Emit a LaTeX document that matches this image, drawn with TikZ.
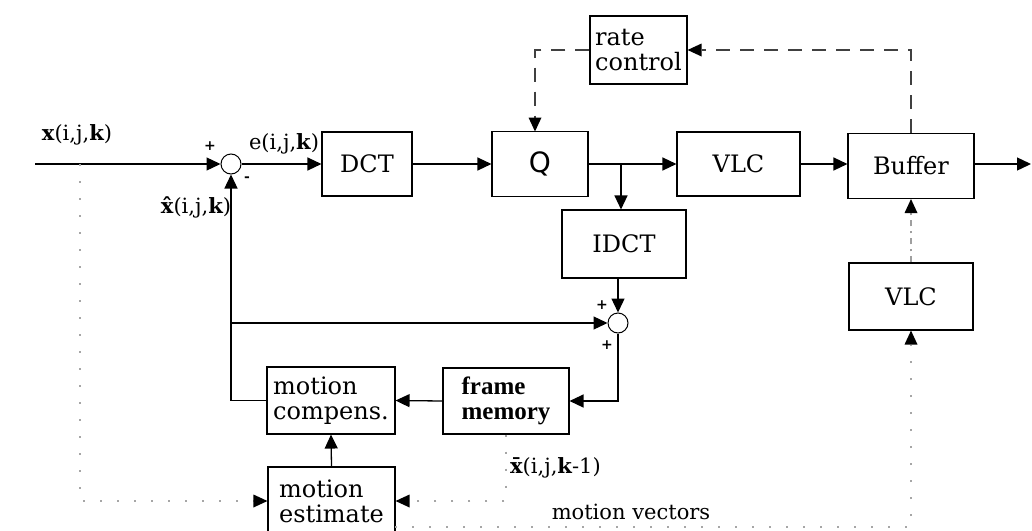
\documentclass[tikz,border=0pt]{standalone}
\usepackage{fontspec}
\setmainfont{DejaVu Serif}
\newfontfamily\qfont{DejaVu Sans}
\newfontfamily\fmfont{Liberation Serif}
\usetikzlibrary{arrows.meta,calc}
\begin{document}
\begin{tikzpicture}[x=1pt,y=-1pt,
 blk/.style={draw, line width=1.1pt, inner sep=0pt, font=\fontsize{24}{25}\selectfont, align=left},
 sumj/.style={draw, circle, line width=1pt, minimum size=20pt, inner sep=0pt},
 ln/.style={line width=1.3pt},
 arr/.style={ln, -{Triangle[length=14pt,width=13pt]}},
 atip/.style={-{Triangle[length=14pt,width=13pt,color=black,line width=0pt]}},
 dotl/.style={line width=2pt, dash pattern=on 2pt off 15pt, gray!70},
 dshl/.style={line width=1.2pt, dash pattern=on 14pt off 10pt, black!75},
 dashdotl/.style={line width=1.3pt, dash pattern=on 6pt off 5pt on 2pt off 5pt, gray!75},
 lbl/.style={font=\fontsize{21}{22}\selectfont, inner sep=0pt},
 sgn/.style={font=\fontsize{14}{14}\selectfont\bfseries, inner sep=0pt}]

\useasboundingbox[fill=white] (0,0) rectangle (1032,530);

% blocks
\node[blk, minimum width=90pt, minimum height=64pt] (dct) at (367,164) {DCT};
\node[blk, minimum width=96pt, minimum height=65pt, font=\qfont\fontsize{28}{28}\selectfont] (q) at (540,164) {Q};
\node[blk, minimum width=123pt, minimum height=64pt] (vlc) at (738.5,164) {VLC};
\node[blk, minimum width=126pt, minimum height=65pt] (buf) at (911,166) {Buffer};
\node[blk, minimum width=124pt, minimum height=68pt] (idct) at (624,244) {IDCT};
\node[blk, minimum width=124pt, minimum height=67pt] (vlc2) at (911,296.5) {VLC};
\node[blk, minimum width=97pt, minimum height=68pt] (rc) at (638.5,50) {rate\\control};
\node[blk, minimum width=126pt, minimum height=66pt, font=\fmfont\fontsize{25}{25}\selectfont\bfseries] (fm) at (506,401) {frame\\memory};
\node[blk, minimum width=128pt, minimum height=67pt] (mc) at (331,400.5) {motion\\compens.};
\node[blk, minimum width=127pt, minimum height=68pt] (me) at (331.5,501) {motion\\estimate};

% summing junctions
\node[sumj] (s1) at (231,164) {};
\node[sumj] (s2) at (618,323) {};

% labels
\node[lbl] (lx) at (77,135) {{\bfseries x}(i,j,{\bfseries k})};
\node[lbl] (le) at (284,144) {e(i,j,{\bfseries k})};
\node[lbl] (lxh) at (196,207) {{\bfseries\^x}(i,j,{\bfseries k})};
\node[lbl, anchor=west] (lxb) at (510,468) {{\bfseries\=x}(i,j,{\bfseries k}-1)};
\node[font=\fontsize{21}{22}\selectfont, inner sep=0pt] (lmv) at (631,512) {motion vectors};
\node[sgn] (p1) at (210,146) {+};
\node[sgn] (m1) at (247,179) {-};
\node[sgn] (p2) at (602,305) {+};
\node[sgn] (p3) at (607,345) {+};

% coordinates
\coordinate (in) at (35,164);
\coordinate (out) at (1031,164);
\coordinate (br) at (621,164);
\coordinate (j1) at (231,323);
\coordinate (tap) at (80,164);
\coordinate (mv) at (395,527);
\coordinate (qin) at (535,131.5);

% main path
\draw[arr] (in) -- (s1.west);
\draw[arr] (s1.east) -- (dct.west);
\draw[arr] (dct.east) -- (q.west);
\draw[arr] (q.east) -- (vlc.west);
\draw[arr] (br) -- (br |- idct.north);
\draw[arr] (vlc.east) -- (vlc.east -| buf.west);
\draw[arr] (buf.east |- out) -- (out);

% reconstruction loop
\draw[arr] (s2 |- idct.south) -- (s2.north);
\draw[arr] (s2.south) -- (s2 |- fm.east) -- (fm.east);
\draw[arr] (fm.west) -- (mc.east);
\draw[arr] (mc.west) -- (s1 |- mc.west) -- (s1.south);
\draw[arr] (j1) -- (s2.west);
\draw[arr] (me.north) -- (mc.south);

% dotted paths
\draw[dotl, atip] (tap) -- (tap |- me.west) -- (me.west);
\draw[dotl, atip] (fm.south) -- (fm.south |- me.east) -- (me.east);
\draw[dotl, atip] (mv) -- (mv -| vlc2.south) -- (vlc2.south);
\draw[dashdotl, atip] (vlc2.north) -- (buf.south);

% rate control
\draw[dshl, atip] (buf.north) -- (buf.north |- rc.east) -- (rc.east);
\draw[dshl, atip] (rc.west) -- (rc.west -| qin) -- (qin);
\end{tikzpicture}
\end{document}
